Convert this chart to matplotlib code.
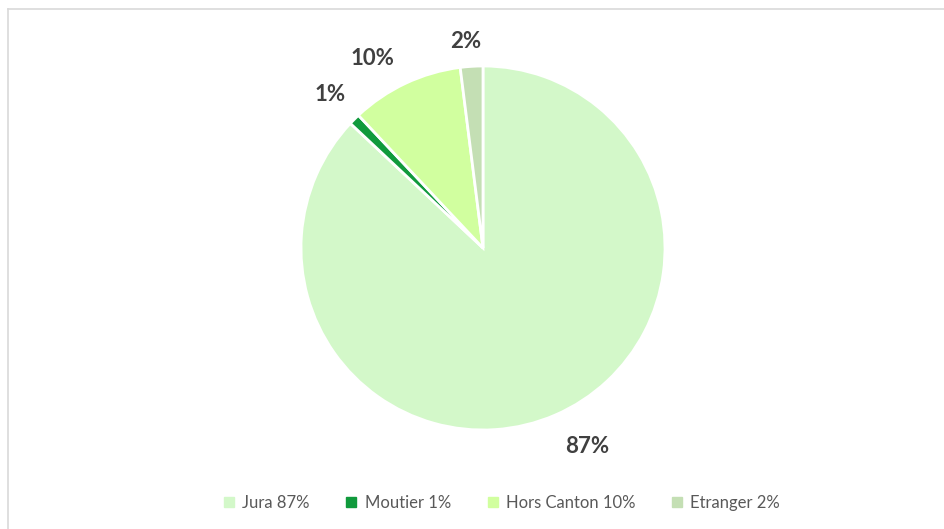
import matplotlib.pyplot as plt
from matplotlib.lines import Line2D

labels = ["Jura", "Moutier", "Hors Canton", "Etranger"]
values = [87, 1, 10, 2]
colors = ["#D3F8C9", "#109A3C", "#D1FF9F", "#C4DFB4"]
# small nudges of the percentage labels (Excel "best fit" placement)
label_nudge = [(0.10, 0.0), (0.0, 0.0), (-0.10, -0.035), (-0.02, -0.055)]

plt.rcParams['font.family'] = ['Lato', 'DejaVu Sans']

fig = plt.figure(figsize=(9.44, 5.29), dpi=100)
# light frame like the spreadsheet chart area
fig.add_artist(Line2D([0.008, 0.008], [0.0, 0.983], color="#D9D9D9", lw=1.2))
fig.add_artist(Line2D([0.008, 1.0], [0.983, 0.983], color="#D9D9D9", lw=1.2))

pax = fig.add_axes([(483 - 182) / 944, 1 - (248 + 182) / 529, 364 / 944, 364 / 529])
wedges, texts, autotexts = pax.pie(
    values, colors=colors, startangle=90, counterclock=False,
    autopct="%1.0f%%", pctdistance=1.19,
    wedgeprops=dict(edgecolor="white", linewidth=2),
    textprops=dict(fontsize=16, fontweight="bold", color="#404040"))
for t, (dx, dy) in zip(autotexts, label_nudge):
    x, y = t.get_position()
    t.set_position((x + dx, y + dy))
pax.set_xlim(-1, 1)
pax.set_ylim(-1, 1)
pax.set_aspect("equal")
pax.axis("off")

handles = [plt.Rectangle((0, 0), 1, 1, color=c) for c in colors]
leg_labels = [f"{l} {v}%" for l, v in zip(labels, values)]
fig.legend(handles, leg_labels, loc="center", bbox_to_anchor=(502 / 944, 1 - 503 / 529),
           ncol=4, frameon=False, fontsize=12, handlelength=0.6, handleheight=0.6,
           handletextpad=0.5, columnspacing=2.2, labelcolor="#595959")

fig.savefig("out.png", dpi=100)
